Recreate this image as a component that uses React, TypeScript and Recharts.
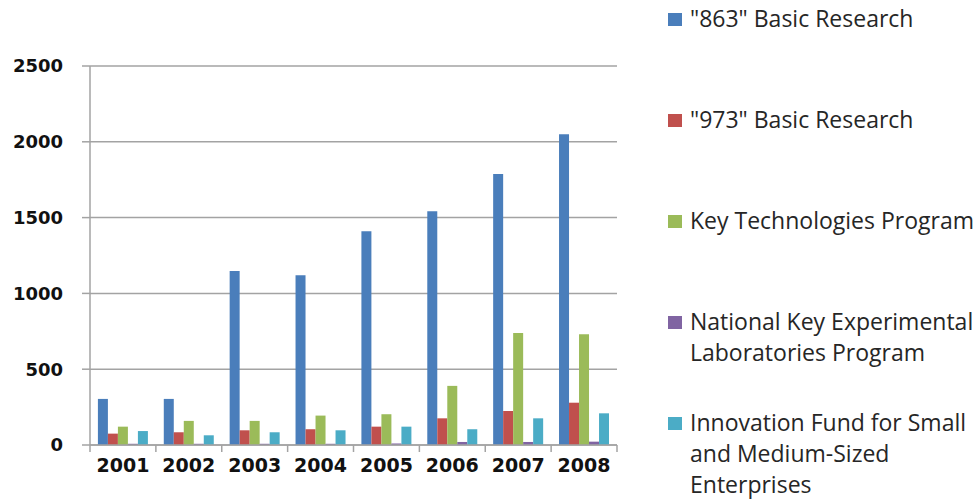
import React from "react";
import { BarChart, Bar, XAxis, YAxis, CartesianGrid, Legend } from "recharts";

const years = ["2001", "2002", "2003", "2004", "2005", "2006", "2007", "2008"];
const s863 = [304, 304, 1147, 1120, 1410, 1542, 1787, 2050];
const s973 = [75, 84, 97, 104, 121, 176, 225, 279];
const keyTech = [121, 159, 159, 194, 203, 390, 739, 730];
const nationalLabs = [8, 8, 8, 8, 10, 20, 20, 22];
const innovation = [92, 64, 84, 97, 121, 104, 176, 209];
const yTicks = [0, 500, 1000, 1500, 2000, 2500];

const seriesNames = [
  "\"863\" Basic Research",
  "\"973\" Basic Research",
  "Key Technologies Program",
  "National Key Experimental Laboratories Program",
  "Innovation Fund for Small and Medium-Sized Enterprises",
];
const legendLines = [
  ["\"863\" Basic Research"],
  ["\"973\" Basic Research"],
  ["Key Technologies Program"],
  ["National Key Experimental", "Laboratories Program"],
  ["Innovation Fund for Small", "and Medium-Sized", "Enterprises"],
];
const seriesKeys = ["s863", "s973", "keyTech", "nationalLabs", "innovation"];
const colors = ["#4a7ebb", "#c0504d", "#9bbb59", "#8064a2", "#4bacc6"];

const data = years.map((year, i) => ({
  year,
  s863: s863[i],
  s973: s973[i],
  keyTech: keyTech[i],
  nationalLabs: nationalLabs[i],
  innovation: innovation[i],
}));

const gray = "#a3a3a3";
const X_TICK_MARGIN = 14;
const BOUNDARY_TICK = 7;

const YearTick = (props: any) => {
  const { x, y, payload, index, width, visibleTicksCount } = props;
  const half = width / visibleTicksCount / 2;
  const axisY = y - X_TICK_MARGIN;
  const isLast = index === visibleTicksCount - 1;
  return (
    <g>
      <line x1={x - half} x2={x - half} y1={axisY} y2={axisY + BOUNDARY_TICK} stroke={gray} strokeWidth={1.5} />
      {isLast && (
        <line x1={x + half} x2={x + half} y1={axisY} y2={axisY + BOUNDARY_TICK} stroke={gray} strokeWidth={1.5} />
      )}
      <text
        x={x}
        y={y}
        dy="0.71em"
        textAnchor="middle"
        fontFamily="'DejaVu Sans', sans-serif"
        fontWeight="bold"
        fontSize={19}
        fill="#111"
      >
        {payload.value}
      </text>
    </g>
  );
};

const LegendContent = () => (
  <div style={{ fontFamily: "'Open Sans', sans-serif", fontSize: 23, color: "#262626" }}>
    {seriesNames.map((name, i) => (
      <div key={name} style={{ height: 101, display: "flex", alignItems: "flex-start" }}>
        <div
          style={{
            width: 14,
            height: 13,
            background: colors[i],
            marginTop: 10,
            marginLeft: 18,
            marginRight: 8,
            flexShrink: 0,
          }}
        />
        <div style={{ lineHeight: "31px", whiteSpace: "nowrap" }}>
          {legendLines[i].map((l) => (
            <div key={l}>{l}</div>
          ))}
        </div>
      </div>
    ))}
  </div>
);

export default function App() {
  return (
    <div style={{ position: "absolute", left: 0, top: 0, background: "#fff" }}>
      <BarChart
        width={978}
        height={499}
        data={data}
        margin={{ top: 66, right: 361, bottom: 24, left: 0 }}
        barCategoryGap="12%"
        barGap={0}
      >
        <CartesianGrid vertical={false} stroke={gray} strokeWidth={1.5} />
        <XAxis
          dataKey="year"
          height={30}
          axisLine={{ stroke: gray, strokeWidth: 1.5 }}
          tickLine={false}
          tickSize={0}
          tickMargin={X_TICK_MARGIN}
          interval={0}
          tick={<YearTick />}
        />
        <YAxis
          width={90}
          domain={[0, 2500]}
          ticks={yTicks}
          interval={0}
          axisLine={{ stroke: gray, strokeWidth: 1.5 }}
          tickLine={{ stroke: gray, strokeWidth: 1.5 }}
          tickSize={8}
          tickMargin={19}
          tick={{ fontFamily: "'DejaVu Sans', sans-serif", fontWeight: "bold", fontSize: 18, fill: "#111" }}
        />
        <Legend
          layout="horizontal"
          verticalAlign="middle"
          align="center"
          content={<LegendContent />}
          wrapperStyle={{ left: 650, top: 3, width: 328, height: 496 }}
        />
        {seriesKeys.map((k, i) => (
          <Bar key={k} dataKey={k} name={seriesNames[i]} fill={colors[i]} isAnimationActive={false} />
        ))}
      </BarChart>
    </div>
  );
}
